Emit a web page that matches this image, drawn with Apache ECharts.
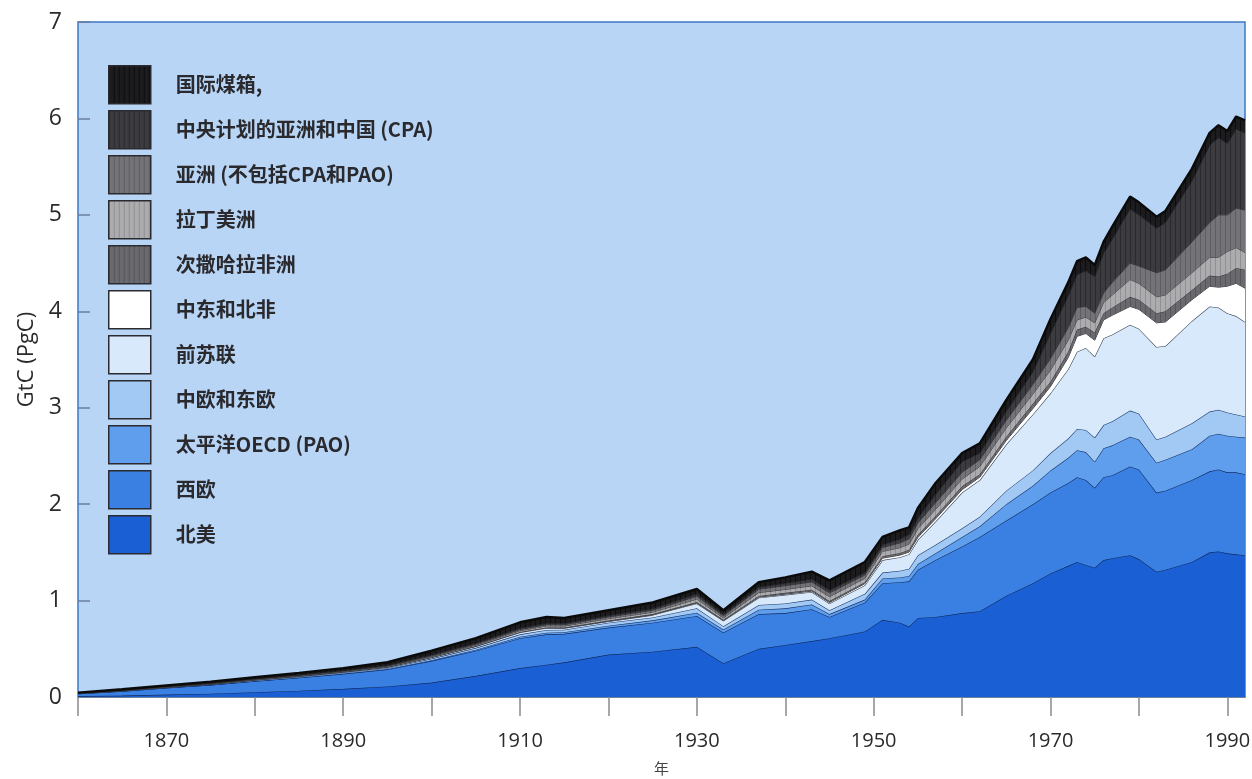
<!DOCTYPE html>
<html><head><meta charset="utf-8">
<script src="https://cdn.jsdelivr.net/npm/echarts@6/dist/echarts.min.js"></script>
<style>html,body{margin:0;padding:0;background:#fff}#c{width:1252px;height:779px}</style>
</head><body><div id="c"></div>
<script>
const years = [1860,1865,1870,1875,1880,1885,1890,1895,1900,1905,1910,1913,1915,1920,1925,1930,1933,1937,1940,1943,1945,1949,1951,1953,1954,1955,1957,1960,1962,1965,1968,1970,1972,1973,1974,1975,1976,1977,1979,1980,1982,1983,1986,1988,1989,1990,1991,1992];

const northAmerica = [.010,.015,.025,.035,.050,.065,.085,.110,.150,.220, .300,.335,.360,.440,.470,.520,.350,.500,.540,.580, .610,.680,.800,.770,.730,.820,.830,.870,.890,1.05, 1.18,1.28,1.36,1.40,1.37,1.34,1.42,1.44,1.47,1.43, 1.30,1.32,1.40,1.50,1.51,1.49,1.48,1.47];
const westernEurope = [.025,.045,.070,.090,.115,.135,.155,.175,.225,.260, .310,.315,.295,.280,.300,.320,.320,.360,.330,.330, .220,.300,.380,.420,.470,.500,.590,.690,.770,.780, .820,.840,.860,.880,.880,.830,.860,.860,.920,.930, .820,.820,.850,.840,.850,.840,.850,.840];
const pacificOECD = [.000,.001,.001,.001,.002,.003,.004,.005,.007,.010, .015,.017,.017,.020,.025,.035,.030,.045,.050,.050, .030,.030,.050,.050,.055,.060,.070,.100,.110,.170, .190,.230,.260,.280,.290,.270,.300,.310,.310,.310, .310,.320,.320,.370,.370,.380,.370,.380];
const centralEastEurope = [.002,.003,.004,.005,.007,.008,.010,.012,.016,.020, .025,.028,.026,.030,.030,.045,.035,.050,.050,.050, .040,.060,.060,.070,.075,.090,.090,.090,.100,.140, .160,.180,.200,.220,.230,.250,.240,.250,.270,.270, .240,.240,.270,.250,.250,.240,.230,.220];
const formerSoviet = [.001,.002,.002,.003,.004,.005,.006,.008,.012,.014, .020,.021,.017,.015,.025,.050,.055,.075,.090,.080, .070,.090,.130,.140,.150,.160,.240,.370,.380,.480, .580,.620,.720,.800,.850,.840,.900,.900,.890,.880, .960,.940,1.06,1.09,1.06,1.03,1.02,.980];
const middleEastNAfrica = [.000,.000,.000,.000,.000,.000,.000,.000,.001,.002, .002,.002,.002,.003,.003,.005,.004,.006,.007,.008, .010,.015,.020,.022,.023,.025,.028,.030,.030,.040, .060,.070,.120,.160,.150,.170,.190,.200,.190,.200, .250,.250,.220,.210,.210,.280,.340,.350];
const subSaharanAfrica = [.001,.001,.001,.001,.001,.001,.001,.001,.001,.002, .003,.004,.004,.005,.007,.010,.008,.012,.013,.015, .015,.015,.020,.022,.025,.027,.030,.035,.030,.040, .050,.050,.060,.070,.070,.080,.070,.080,.100,.100, .100,.110,.100,.110,.110,.130,.160,.190];
const latinAmerica = [.001,.002,.002,.003,.004,.004,.005,.006,.008,.010, .013,.015,.015,.019,.020,.030,.018,.035,.035,.040, .045,.040,.050,.055,.057,.063,.067,.075,.080,.090, .100,.120,.120,.100,.100,.100,.110,.130,.180,.170, .170,.170,.180,.190,.200,.230,.210,.180];
const otherAsia = [.001,.001,.002,.002,.003,.004,.004,.005,.008,.010, .012,.013,.014,.018,.020,.030,.022,.035,.040,.040, .040,.035,.040,.050,.055,.060,.070,.070,.070,.080, .100,.120,.130,.130,.110,.100,.100,.130,.170,.180, .250,.260,.320,.360,.440,.380,.410,.440];
const centrallyPlannedAsia = [.001,.002,.003,.004,.004,.005,.006,.008,.010,.012, .015,.015,.015,.015,.018,.025,.018,.022,.025,.030, .030,.025,.030,.040,.045,.050,.085,.110,.070,.090, .130,.260,.330,.340,.370,.380,.410,.450,.560,.530, .460,.490,.630,.800,.800,.740,.820,.800];
const bunkers = [.003,.008,.010,.016,.015,.020,.024,.030,.042,.050, .060,.065,.055,.055,.062,.050,.040,.050,.060,.077, .100,.110,.080,.091,.075,.105,.120,.090,.100,.120, .130,.150,.140,.140,.140,.120,.120,.130,.130,.130, .120,.120,.130,.130,.130,.130,.130,.130];

const seriesNames = ['北美','西欧','太平洋OECD (PAO)','中欧和东欧','前苏联','中东和北非','次撒哈拉非洲','拉丁美洲','亚洲 (不包括CPA和PAO)','中央计划的亚洲和中国 (CPA)','国际煤箱,'];
const seriesValues = [northAmerica, westernEurope, pacificOECD, centralEastEurope, formerSoviet, middleEastNAfrica, subSaharanAfrica, latinAmerica, otherAsia, centrallyPlannedAsia, bunkers];
const xTickValues = [1860,1870,1880,1890,1900,1910,1920,1930,1940,1950,1960,1970,1980,1990];
const xLabelValues = [1870,1890,1910,1930,1950,1970,1990];

function stripes(base, stripe) {
  const c = document.createElement('canvas');
  c.width = 5; c.height = 8;
  const ctx = c.getContext('2d');
  ctx.fillStyle = base; ctx.fillRect(0, 0, 5, 8);
  ctx.fillStyle = stripe; ctx.fillRect(0, 0, 1, 8);
  return { image: c, repeat: 'repeat' };
}
const fills = [
  '#1a5fd4', '#3a80e2', '#5f9eec', '#a2c8f4', '#d8e9fc', '#ffffff',
  stripes('#6a6a6e', '#56565a'), stripes('#acacaf', '#909094'), stripes('#747478', '#5e5e62'),
  stripes('#3c3c40', '#2a2a2e'), stripes('#1c1c1e', '#0c0c0e')
];
const solid = ['#1a5fd4','#3a80e2','#5f9eec','#a2c8f4','#d8e9fc','#ffffff','#6a6a6e','#acacaf','#747478','#3c3c40','#1c1c1e'];
const lineCols = ['#0f2c62','#0f2c62','#15336a','#1d3a6c','#3a4658','#3c3c40','#303034','#3a3a3e','#303034','#1e1e20','#0a0a0a'];
const lineW = [1.2,1.2,1.2,1.2,1.2,1,1,1,1,1,2.4];

// values first, year second: the stack is computed on the first numeric dimension (the value)
const series = seriesNames.map((name, i) => ({
  name, type: 'line', stack: 'total', showSymbol: false, symbol: 'none',
  encode: { x: 1, y: 0 },
  data: years.map((y, k) => [seriesValues[i][k], y]),
  lineStyle: { color: lineCols[i], width: lineW[i] },
  itemStyle: { color: solid[i] },
  areaStyle: { color: fills[i], opacity: 1 },
  emphasis: { disabled: true },
  z: 2 + i
}));

const legendOrder = seriesNames.slice().reverse();
const chart = echarts.init(document.getElementById('c'), null, { renderer: 'canvas' });
chart.setOption({
  animation: false,
  backgroundColor: '#ffffff',
  grid: { left: 78, right: 7, top: 22, bottom: 82, outerBoundsMode: 'none', containLabel: false,
    show: true, backgroundColor: '#b8d5f5', borderColor: '#3f77c6', borderWidth: 1.5 },
  legend: {
    orient: 'vertical', left: 103, top: 60, itemWidth: 42, itemHeight: 38, itemGap: 5.5,
    icon: 'rect', selectedMode: false,
    data: legendOrder.map(n => {
      const i = seriesNames.indexOf(n);
      return { name: n, itemStyle: { color: fills[i], borderColor: '#2a2a30', borderWidth: 1.5 } };
    }),
    textStyle: { fontFamily: 'Noto Sans CJK SC', fontSize: 20, fontWeight: 'bold', color: '#2a2a2e', padding: [0, 0, 0, 20] }
  },
  xAxis: {
    type: 'value', min: 1860, max: 1992, interval: 10,
    name: '年', nameLocation: 'middle', nameGap: 64,
    nameTextStyle: { fontFamily: 'Noto Sans CJK SC', fontSize: 15, color: '#444' },
    axisLine: { show: true, lineStyle: { color: '#6d7f99', width: 1 } },
    axisTick: { show: true, length: 19, customValues: xTickValues, lineStyle: { color: '#8a8a8a', width: 1.5 } },
    axisLabel: { customValues: xLabelValues, margin: 34, fontFamily: 'Open Sans', fontSize: 20, color: '#2a2a2a',
      formatter: v => ((v - 1870) % 20 === 0 ? String(v) : '') },
    splitLine: { show: false }
  },
  yAxis: {
    type: 'value', min: 0, max: 7, interval: 1,
    name: 'GtC (PgC)', nameLocation: 'middle', nameGap: 36, nameRotate: 90,
    nameTextStyle: { fontFamily: 'Open Sans', fontSize: 22, color: '#2a2a2a' },
    axisLine: { show: false },
    axisTick: { show: true, inside: true, length: 12, lineStyle: { color: '#6a7f9e', width: 1.5 } },
    axisLabel: { margin: 16, fontFamily: 'Open Sans', fontSize: 23, color: '#2a2a2a' },
    splitLine: { show: false }
  },
  series
});
</script></body></html>
